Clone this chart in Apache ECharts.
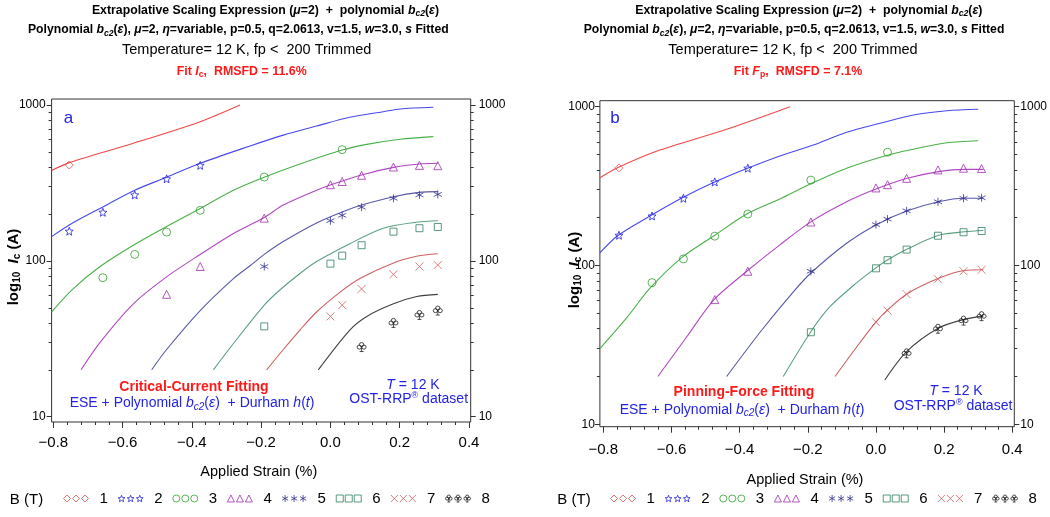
<!DOCTYPE html>
<html><head><meta charset="utf-8">
<script src="https://cdn.jsdelivr.net/npm/echarts@6/dist/echarts.min.js"></script>
<style>html,body{margin:0;padding:0;background:#fff}#c{width:1050px;height:517px}</style>
</head><body><div id="c"></div>
<script>
// ---------- data ----------
const fields = ['1','2','3','4','5','6','7','8'];
const strainTicks = [-0.8,-0.6,-0.4,-0.2,0.0,0.2,0.4];
const icTicks = [10,100,1000];
const icMinorTicks = [20,30,40,50,60,70,80,90,200,300,400,500,600,700,800,900];
const strainMinorTicks = [];
for (let k = -20; k <= 10; k++) strainMinorTicks.push(+(k*0.04).toFixed(2));

// measured Ic (A) vs applied strain (%), per field B (T)
const measB1 = [[-0.754,412]];
const measB2 = [[-0.754,155],[-0.657,205],[-0.565,265],[-0.473,336],[-0.376,410]];
const measB3 = [[-0.657,78],[-0.565,110],[-0.473,153],[-0.376,211],[-0.191,345],[0.034,517]];
const measB4 = [[-0.473,61],[-0.376,92],[-0.191,188],[0.0,308],[0.034,323],[0.09,354],[0.182,400],[0.257,410],[0.31,408]];
const measB5 = [[-0.191,92],[0.0,181],[0.034,196],[0.09,221],[0.182,252],[0.257,265],[0.31,267]];
const measB6 = [[-0.191,38],[0.0,96],[0.034,108],[0.09,126],[0.182,154],[0.257,162],[0.31,165]];
const measB7 = [[0.0,44],[0.034,52],[0.09,66],[0.182,82],[0.257,92],[0.31,94]];
const measB8 = [[0.09,28],[0.182,40],[0.257,45],[0.31,48]];

// panel a: critical-current fit curves
const fitIcB1 = [[-0.805,380],[-0.754,427],[-0.569,568],[-0.376,782],[-0.261,1000]];
const fitIcB2 = [[-0.805,143],[-0.754,170],[-0.657,222],[-0.565,284],[-0.473,344],[-0.376,423],[-0.232,546],[-0.136,641],[-0.04,733],[0.056,834],[0.153,906],[0.201,943],[0.297,967]];
const fitIcB3 = [[-0.805,47],[-0.747,65],[-0.665,92],[-0.569,126],[-0.473,166],[-0.376,217],[-0.28,284],[-0.191,344],[-0.088,418],[0.034,514],[0.105,559],[0.201,603],[0.297,627]];
const fitIcB4 = [[-0.72,20],[-0.665,30],[-0.569,53],[-0.473,79],[-0.376,110],[-0.28,150],[-0.191,190],[-0.136,228],[-0.04,284],[0.0,307],[0.09,356],[0.182,398],[0.257,418],[0.31,423]];
const fitIcB5 = [[-0.516,20],[-0.473,27],[-0.376,48],[-0.28,77],[-0.232,93],[-0.191,110],[-0.136,133],[-0.04,175],[0.034,206],[0.09,228],[0.182,258],[0.257,275],[0.31,278]];
const fitIcB6 = [[-0.338,20],[-0.28,29.5],[-0.191,52],[-0.146,65],[-0.088,83],[-0.04,99],[0.056,129],[0.153,162],[0.249,177],[0.31,181]];
const fitIcB7 = [[-0.184,20],[-0.136,27],[-0.088,36],[-0.04,47],[0.028,63],[0.085,77],[0.182,97],[0.249,107],[0.31,111]];
const fitIcB8 = [[-0.035,20],[0.056,36],[0.105,44],[0.182,53],[0.249,59],[0.31,61]];

// panel b: pinning-force fit curves
const fitFpB1 = [[-0.81,357],[-0.758,413],[-0.634,533],[-0.438,721],[-0.252,1000]];
const fitFpB2 = [[-0.81,120],[-0.758,154],[-0.663,205],[-0.568,267],[-0.475,334],[-0.379,408],[-0.282,490],[-0.184,574],[-0.086,690],[0.012,786],[0.11,887],[0.208,944],[0.3,964]];
const fitFpB3 = [[-0.81,30],[-0.731,47],[-0.663,72],[-0.568,113],[-0.475,154],[-0.379,211],[-0.282,262],[-0.19,328],[-0.086,410],[0.036,497],[0.11,540],[0.208,593],[0.3,611]];
const fitFpB4 = [[-0.64,20],[-0.555,35.6],[-0.475,61],[-0.379,92],[-0.282,135],[-0.19,189],[-0.086,252],[0.0,303],[0.092,354],[0.184,390],[0.259,403],[0.315,403]];
const fitFpB5 = [[-0.438,20],[-0.34,38],[-0.243,68],[-0.19,90],[-0.086,138],[0.0,180],[0.092,221],[0.184,252],[0.259,265],[0.315,265]];
const fitFpB6 = [[-0.272,20],[-0.191,38.3],[-0.135,55],[-0.056,78],[0.001,97],[0.036,109],[0.092,127],[0.184,155],[0.259,163],[0.315,166]];
const fitFpB7 = [[-0.12,20],[-0.056,30.8],[0.001,44.3],[0.034,52.5],[0.09,66],[0.184,83],[0.259,93],[0.315,94]];
const fitFpB8 = [[0.026,19],[0.09,28.7],[0.184,40.4],[0.259,45.8],[0.315,48]];

// ---------- styles ----------
const lineColors = ['#f04848','#4848f0','#48b048','#b048c0','#5858a8','#5aa080','#d06060','#404040'];
const markColors = ['#e85050','#2020e0','#30a030','#a030b0','#303090','#308060','#d06060','#202020'];
const shapes = ['diamond','star','circle','triangle','asterisk','square','cross','club'];
const symSizes = [8,8,8,8,8,7,8,9];
const SANS = "'Liberation Sans',Arial,sans-serif";
const RED = '#ff1a1a', BLUE = '#2323e6';

function shapePath(kind, ox, s) {
  const P = (x, y) => (ox + x * s).toFixed(2) + ',' + (y * s).toFixed(2);
  const circ = (cx, cy, r) => `M${P(cx + r, cy)}A${(r*s).toFixed(2)},${(r*s).toFixed(2)} 0 1 1 ${P(cx - r, cy)}A${(r*s).toFixed(2)},${(r*s).toFixed(2)} 0 1 1 ${P(cx + r, cy)}Z`;
  switch (kind) {
    case 'diamond': return `M${P(.5,0)}L${P(1,.5)}L${P(.5,1)}L${P(0,.5)}Z`;
    case 'star': return `M${P(.5,0)}L${P(.629,.322)}L${P(.976,.345)}L${P(.709,.568)}L${P(.794,.905)}L${P(.5,.72)}L${P(.206,.905)}L${P(.291,.568)}L${P(.024,.345)}L${P(.371,.322)}Z`;
    case 'circle': return circ(.5,.5,.5);
    case 'triangle': return `M${P(.5,0)}L${P(1,1)}L${P(0,1)}Z`;
    case 'asterisk': return `M${P(.5,0)}L${P(.5,1)}M${P(.067,.25)}L${P(.933,.75)}M${P(.067,.75)}L${P(.933,.25)}`;
    case 'square': return `M${P(0,0)}L${P(1,0)}L${P(1,1)}L${P(0,1)}Z`;
    case 'cross': return `M${P(0,0)}L${P(1,1)}M${P(0,1)}L${P(1,0)}`;
    case 'club': return circ(.5,.24,.22) + circ(.26,.52,.22) + circ(.74,.52,.22) + `M${P(.5,.45)}L${P(.5,1)}M${P(.3,1)}L${P(.7,1)}`;
  }
}
const seriesSymbol = i => 'path://' + shapePath(shapes[i], 0, 10);
const legendIcon = i => 'path://' + [0,1,2].map(k => shapePath(shapes[i], k * 9, 7)).join('');

const meas = [measB1,measB2,measB3,measB4,measB5,measB6,measB7,measB8];
const panels = [
  {fits:[fitIcB1,fitIcB2,fitIcB3,fitIcB4,fitIcB5,fitIcB6,fitIcB7,fitIcB8],
   grid:{left:51.6, top:99, width:419.1, height:323}, xMin:-0.805, xMax:0.405, yMin:9.25, yMax:1093,
   xLabelMargin:13, yLeftMargin:6, yRightMargin:8},
  {fits:[fitFpB1,fitFpB2,fitFpB3,fitFpB4,fitFpB5,fitFpB6,fitFpB7,fitFpB8],
   grid:{left:599.9, top:100.7, width:414.4, height:326}, xMin:-0.81, xMax:0.406, yMin:9.66, yMax:1091,
   xLabelMargin:16, yLeftMargin:5, yRightMargin:6}
];

const fmtStrain = v => (v < -1e-9 ? '\u2212' : '') + Math.abs(v).toFixed(1);
const fmtIc = v => String(Math.round(v));
const tickCol = '#333';
const grids = [], xAxes = [], yAxes = [], series = [];
panels.forEach((p, gi) => {
  grids.push(Object.assign({show:true, borderColor:'#333', borderWidth:1, backgroundColor:'transparent'}, p.grid));
  const xBase = {gridIndex:gi, type:'value', min:p.xMin, max:p.xMax, axisLine:{show:false, onZero:false}, splitLine:{show:false}, position:'bottom'};
  xAxes.push(Object.assign({}, xBase, {
    axisTick:{show:true, customValues:strainTicks, length:6, lineStyle:{color:tickCol}},
    axisLabel:{customValues:strainTicks, margin:p.xLabelMargin, fontSize:15, color:'#000', fontFamily:SANS, formatter:fmtStrain}}));
  xAxes.push(Object.assign({}, xBase, {
    axisTick:{show:true, customValues:strainMinorTicks, length:3, lineStyle:{color:tickCol}},
    axisLabel:{show:false}}));
  ['left','right'].forEach(pos => {
    const yBase = {gridIndex:gi, type:'log', logBase:10, min:p.yMin, max:p.yMax, position:pos, axisLine:{show:false, onZero:false}, splitLine:{show:false}};
    yAxes.push(Object.assign({}, yBase, {
      axisTick:{show:true, customValues:icTicks, length:5, lineStyle:{color:tickCol}},
      axisLabel:{customValues:icTicks, margin: pos === 'left' ? p.yLeftMargin : p.yRightMargin, fontSize:12, color:'#000', fontFamily:SANS, formatter:fmtIc}}));
    yAxes.push(Object.assign({}, yBase, {
      axisTick:{show:true, customValues:icMinorTicks, length:3, lineStyle:{color:tickCol}},
      axisLabel:{show:false}}));
  });
  p.fits.forEach((d, i) => series.push({
    type:'line', name:'fit' + gi + '_' + fields[i], xAxisIndex:2*gi, yAxisIndex:4*gi, data:d,
    smooth:0.3, symbol:'none', showSymbol:false, silent:true, z:2,
    lineStyle:{color:lineColors[i], width:1.1}}));
  meas.forEach((d, i) => series.push({
    type:'scatter', name:fields[i], xAxisIndex:2*gi, yAxisIndex:4*gi, data:d,
    symbol:seriesSymbol(i), symbolSize:symSizes[i], z:3,
    itemStyle:{color:'transparent', borderColor:markColors[i], borderWidth:1}}));
});

const legends = [63, 610].map(left => ({
  left, top:491, padding:0, orient:'horizontal', itemWidth:25, itemHeight:7, itemGap:9.8,
  selectedMode:false,
  data: fields.map((f, i) => ({name:f, icon:legendIcon(i)})),
  itemStyle:{borderWidth:1},
  textStyle:{fontSize:15, color:'#000', fontFamily:SANS, padding:[0,0,0,6]}
}));

// ---------- texts ----------
const rt = (size, color, extra) => Object.assign({fontFamily:SANS, fontWeight:'bold', fontSize:size, fill:color}, extra || {});
const titleRich = {
  b: rt(13.5,'#000'), bi: rt(13.5,'#000',{fontStyle:'italic'}),
  bs: rt(9.5,'#000',{fontStyle:'italic', padding:[7,0,0,0]}),
  r: rt(13.5,RED), ri: rt(13.5,RED,{fontStyle:'italic'}),
  rs: rt(9.5,RED,{padding:[7,0,0,0]})
};
const line1 = '{b|Extrapolative Scaling Expression (}{bi|μ}{b|=2)  +  polynomial }{bi|b}{bs|c2}{b|(}{bi|ε}{b|)}';
const line2 = '{b|Polynomial }{bi|b}{bs|c2}{b|(}{bi|ε}{b|), }{bi|μ}{b|=2, }{bi|η}{b|=variable, p=0.5, q=2.0613, v=1.5, }{bi|w}{b|=3.0, }{bi|s}{b| Fitted}';
const line3 = 'Temperature= 12 K, fp <  200 Trimmed';
const line4a = '{r|Fit }{ri|I}{rs|c}{r|,  RMSFD = 11.6%}';
const line4b = '{r|Fit }{ri|F}{rs|p}{r|,  RMSFD = 7.1%}';

const annRich = {
  bl: {fontFamily:SANS, fontSize:14, fill:BLUE},
  bli: {fontFamily:SANS, fontSize:14, fontStyle:'italic', fill:BLUE},
  bls: {fontFamily:SANS, fontSize:10, fontStyle:'italic', fill:BLUE, padding:[7,0,0,0]},
  sup: {fontFamily:SANS, fontSize:9, fill:BLUE, padding:[0,0,7,0]}
};
const eseText = '{bl|ESE + Polynomial }{bli|b}{bls|c2}{bl|(}{bli|ε}{bl|)  + Durham }{bli|h}{bl|(}{bli|t}{bl|)}';
const yTitleRich = {
  b: {fontFamily:SANS, fontWeight:'bold', fontSize:15, fill:'#000'},
  bi: {fontFamily:SANS, fontWeight:'bold', fontStyle:'italic', fontSize:15, fill:'#000'},
  s: {fontFamily:SANS, fontWeight:'bold', fontSize:10, fill:'#000', padding:[7,0,0,0]}
};
const yTitle = '{b|log}{s|10}{b|  }{bi|I}{s|c}{b| (A)}';

function T(x, y, text, style, extra) {
  return Object.assign({type:'text', x, y, silent:true, style:Object.assign({text, align:'center', verticalAlign:'middle'}, style)}, extra || {});
}
const narrow = s => ({scaleX:s});
const graphics = [
  T(265.5, 10, line1, {rich:titleRich}, narrow(0.91)),
  T(238.3, 29.5, line2, {rich:titleRich}, narrow(0.905)),
  T(246.7, 50, line3, {fontFamily:SANS, fontSize:14.5, fill:'#000'}),
  T(241.7, 71, line4a, {rich:titleRich}, narrow(0.92)),
  T(808.8, 10, line1, {rich:titleRich}, narrow(0.91)),
  T(794, 29.5, line2, {rich:titleRich}, narrow(0.905)),
  T(793, 50, line3, {fontFamily:SANS, fontSize:14.5, fill:'#000'}),
  T(798, 71, line4b, {rich:titleRich}, narrow(0.92)),
  T(68.5, 118, 'a', {fontFamily:SANS, fontSize:17, fill:BLUE}),
  T(615, 118, 'b', {fontFamily:SANS, fontSize:17, fill:BLUE}),
  T(194, 386.7, 'Critical-Current Fitting', {fontFamily:SANS, fontWeight:'bold', fontSize:14, fill:RED}),
  T(192, 403.5, eseText, {rich:annRich}),
  T(413, 385, '{bli|T}{bl| = 12 K}', {rich:annRich}),
  T(408.7, 399.5, '{bl|OST-RRP}{sup|®}{bl| dataset}', {rich:annRich}),
  T(744, 391.7, 'Pinning-Force Fitting', {fontFamily:SANS, fontWeight:'bold', fontSize:14, fill:RED}),
  T(742, 410, eseText, {rich:annRich}),
  T(956, 390.7, '{bli|T}{bl| = 12 K}', {rich:annRich}),
  T(953, 406, '{bl|OST-RRP}{sup|®}{bl| dataset}', {rich:annRich}),
  T(14, 267, yTitle, {rich:yTitleRich}, {rotation:Math.PI/2}),
  T(575, 270, yTitle, {rich:yTitleRich}, {rotation:Math.PI/2}),
  T(258.8, 471.7, 'Applied Strain (%)', {fontFamily:SANS, fontSize:14.5, fill:'#000'}),
  T(805, 480, 'Applied Strain (%)', {fontFamily:SANS, fontSize:14.5, fill:'#000'}),
  T(26.5, 500, 'B (T)', {fontFamily:SANS, fontSize:15, fill:'#000'}),
  T(574, 500, 'B (T)', {fontFamily:SANS, fontSize:15, fill:'#000'})
];

const chart = echarts.init(document.getElementById('c'), null, {renderer:'canvas'});
chart.setOption({
  animation:false,
  backgroundColor:'#fff',
  grid:grids, xAxis:xAxes, yAxis:yAxes, series, legend:legends,
  graphic:{elements:graphics}
});
</script></body></html>
